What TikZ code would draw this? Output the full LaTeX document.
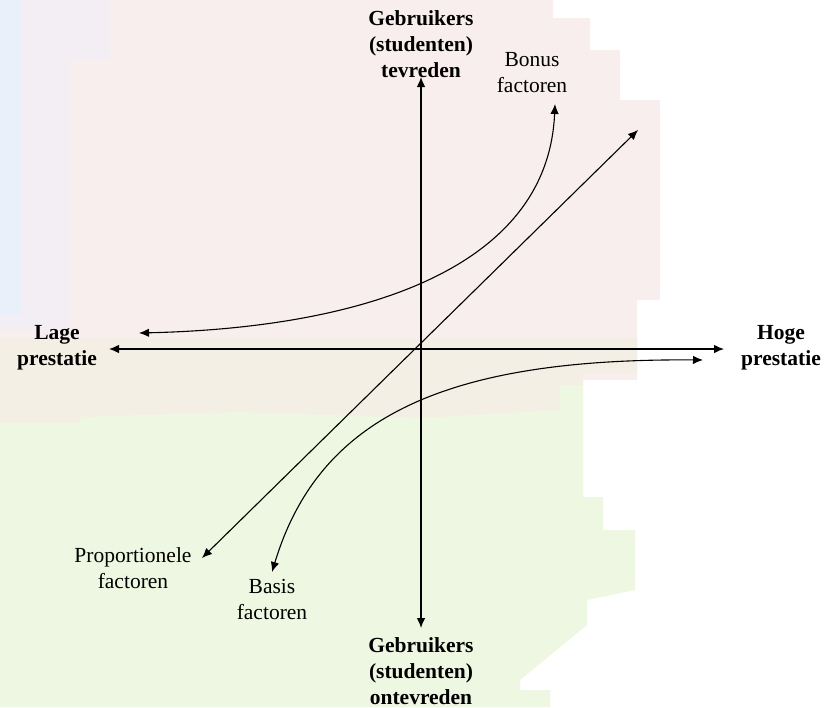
\documentclass[tikz,border=0pt]{standalone}
\usepackage{fontspec}
\setmainfont{Liberation Serif}
\usetikzlibrary{arrows.meta}
\definecolor{pinkbg}{HTML}{F8EEEE}
\definecolor{lavbg}{HTML}{F3EEF3}
\definecolor{bluebg}{HTML}{EAF0FA}
\definecolor{beigebg}{HTML}{F4EFE5}
\definecolor{greenbg}{HTML}{EEF7E1}
\tikzset{
  lbl/.style={inner sep=0pt, align=center, font=\fontsize{21.5}{26}\selectfont},
  blbl/.style={lbl, font=\fontsize{21.5}{26}\selectfont\bfseries},
  conn/.style={line width=1.1pt, -{Latex[length=10pt,width=8.5pt]}},
  axis/.style={conn, {Latex[length=10pt,width=8.5pt]}-{Latex[length=10pt,width=8.5pt]}}
}
\begin{document}
\begin{tikzpicture}[x=1pt,y=-1pt]
\useasboundingbox (0,0) rectangle (832,707);
\fill[white] (0,0) rectangle (832,707);
% background blobs
\fill[pinkbg] (0,0) -- (553,0) -- (553,18) -- (590,18) -- (590,50) -- (620,50) -- (620,100) -- (660,100) -- (660,300) -- (637,300) -- (637,380) -- (0,380) -- cycle;
\fill[lavbg] (0,0) -- (110,0) -- (110,60) -- (70,60) -- (70,330) -- (0,330) -- cycle;
\fill[bluebg] (0,0) -- (22,0) -- (22,315) -- (0,315) -- cycle;
\fill[beigebg] (0,338) -- (637,338) -- (637,373) -- (583,373) -- (583,430) -- (0,430) -- cycle;
\fill[greenbg] (0,423) -- (80,423) -- (80,417) -- (240,412) -- (420,418) -- (560,410) -- (560,385) -- (583,385) -- (583,497) -- (603,497) -- (603,530) -- (635,530) -- (635,590) -- (587,600) -- (587,625) -- (520,680) -- (520,690) -- (550,690) -- (550,707) -- (0,707) -- cycle;
% labels
\node[blbl] (top) at (421,44) {Gebruikers\\(studenten)\\tevreden};
\node[blbl] (bot) at (421,671) {Gebruikers\\(studenten)\\ontevreden};
\node[blbl] (lage) at (57,348) {Lage\\prestatie};
\node[blbl] (hoge) at (781,348) {Hoge\\prestatie};
\node[lbl] (bonus) at (532,73) {Bonus\\factoren};
\node[lbl] (prop) at (133,568) {Proportionele\\factoren};
\node[lbl] (basis) at (272,599) {Basis\\factoren};
% coordinates
\coordinate (c) at (421,349);
\coordinate (vt) at (421,77);
\coordinate (vb) at (421,628);
\coordinate (hl) at (109,349);
\coordinate (hr) at (724,349);
\coordinate (dtr) at (638,130);
\coordinate (dbl) at (202,558);
\coordinate (ul) at (139,333);
\coordinate (ut) at (555,104);
\coordinate (lr) at (703,360);
\coordinate (lb) at (272,572);
% connectors
\draw[axis] (vb) -- (vt);
\draw[axis] (hl) -- (hr);
\draw[axis] (dbl) -- (dtr);
\draw[axis] (ul) .. controls (360,328) and (548,270) .. (ut);
\draw[axis] (lr) .. controls (440,358) and (318,420) .. (lb);
\end{tikzpicture}
\end{document}
